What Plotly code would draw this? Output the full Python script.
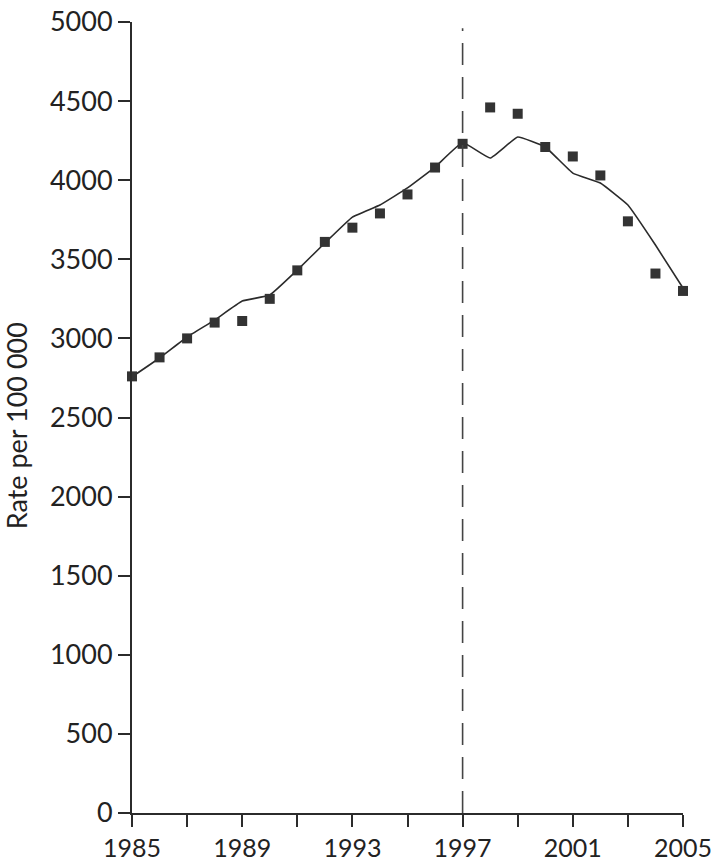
import plotly.graph_objects as go

years = list(range(1985, 2006))
observed = [2760, 2880, 3000, 3100, 3110, 3250, 3430, 3610, 3700, 3790, 3910,
            4080, 4230, 4460, 4420, 4210, 4150, 4030, 3740, 3410, 3300]
fitted = [2757, 2876, 3009, 3116, 3236, 3274, 3432, 3603, 3767, 3843, 3951,
          4083, 4238, 4140, 4273, 4210, 4045, 3982, 3843, 3590, 3318]

x_tickvals = list(range(1985, 2006, 2))
x_ticktext = ["1985", "", "1989", "", "1993", "", "1997", "", "2001", "", "2005"]
y_tickvals = list(range(0, 5001, 500))
break_year = 1997
y_title = "Rate per 100 000"

ink = "#2b2b2b"
txt = "#222222"
font_name = "Lato"

fig = go.Figure()
fig.add_trace(go.Scatter(
    x=years, y=fitted, mode="lines",
    line=dict(color=ink, width=1.6, shape="spline", smoothing=0.3),
    cliponaxis=False, showlegend=False,
))
fig.add_trace(go.Scatter(
    x=years, y=observed, mode="markers",
    marker=dict(symbol="square", size=10, color="#333333"),
    cliponaxis=False, showlegend=False,
))

fig.add_shape(
    type="line", xref="x", yref="y",
    x0=break_year, x1=break_year, y0=0, y1=4960,
    line=dict(color="#444444", width=1.6, dash="22px,12px"),
)

# axis title as annotation so it sits where the original has it
fig.add_annotation(
    text=y_title, textangle=-90, showarrow=False,
    xref="paper", yref="paper", x=-0.209, y=0.49,
    xanchor="center", yanchor="middle",
    font=dict(size=27, family=font_name, color=txt),
)

fig.update_layout(
    width=713, height=863,
    paper_bgcolor="white", plot_bgcolor="white",
    font=dict(family=font_name, color=txt),
    margin=dict(l=132, r=30, t=22, b=50),
    xaxis=dict(
        range=[1985, 2005], tickvals=x_tickvals, ticktext=x_ticktext,
        showgrid=False, zeroline=False, automargin=False, ticklabeloverflow="allow",
        showline=True, linecolor=ink, linewidth=2,
        ticks="outside", ticklen=12, tickwidth=2, tickcolor=ink,
        tickfont=dict(size=25, family=font_name, color=txt),
    ),
    yaxis=dict(
        range=[0, 5000], tickvals=y_tickvals,
        showgrid=False, zeroline=False, automargin=False, ticklabeloverflow="allow",
        showline=True, linecolor=ink, linewidth=2,
        ticks="outside", ticklen=12, tickwidth=2, tickcolor=ink,
        tickfont=dict(size=27, family=font_name, color=txt),
    ),
)

# drop the default page margin so the figure fills the window exactly
fig.write_html("out.html", config={"displayModeBar": False},
               post_script="document.body.style.margin='0';document.body.style.overflow='hidden';")
